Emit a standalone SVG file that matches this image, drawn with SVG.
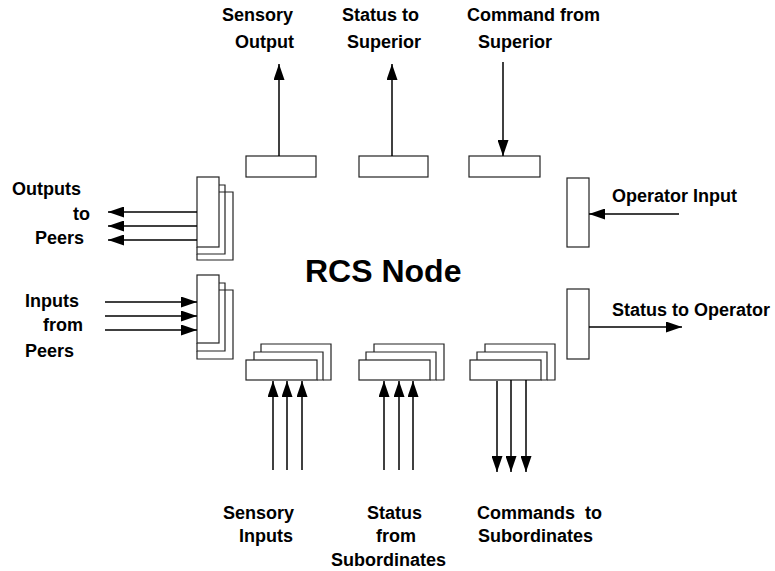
<svg xmlns="http://www.w3.org/2000/svg" width="775" height="571" viewBox="0 0 775 571">
<style>
.box{fill:#fff;stroke:#222;stroke-width:1.2}
.stk{fill:none;stroke:#222;stroke-width:1.2}
.ln{fill:none;stroke:#000;stroke-width:1.5}
.t{font-family:"Liberation Sans",Arial,sans-serif;font-weight:bold;font-size:18px;fill:#000}
.title{font-family:"Liberation Sans",Arial,sans-serif;font-weight:bold;font-size:32px;fill:#000}
</style>
<defs>
<marker id="ah" viewBox="0 0 16 11" refX="16" refY="5.5" markerWidth="16" markerHeight="11" markerUnits="userSpaceOnUse" orient="auto">
<path d="M0,0 L16,5.5 L0,11 Z" fill="#000"/>
</marker>
</defs>
<rect width="775" height="571" fill="#fff"/>

<g id="top-sensory-output"><rect class="box" x="246" y="156" width="70" height="21"/></g>
<g id="top-status-superior"><rect class="box" x="359" y="156" width="69" height="21"/></g>
<g id="top-command-superior"><rect class="box" x="469" y="156" width="71" height="21"/></g>

<g id="left-outputs-peers">
<path class="stk" d="M219,192 H233 V260 H197 V254"/>
<path class="stk" d="M219,185 H225 V254 H197 V247"/>
<rect class="box" x="197" y="177" width="22" height="70"/>
</g>
<g id="left-inputs-peers">
<path class="stk" d="M219,290 H233 V359 H197 V351"/>
<path class="stk" d="M219,283 H225 V351 H197 V343"/>
<rect class="box" x="197" y="275" width="22" height="68"/>
</g>

<g id="right-operator-input"><rect class="box" x="567" y="178" width="22" height="69"/></g>
<g id="right-status-operator"><rect class="box" x="567" y="289" width="22" height="70"/></g>

<g id="bottom-sensory-inputs">
<path class="stk" d="M261,352 V344 H331 V380 H323"/>
<path class="stk" d="M254,360 V352 H323 V380 H317"/>
<rect class="box" x="246" y="360" width="71" height="20"/>
</g>
<g id="bottom-status-subordinates">
<path class="stk" d="M374,352 V344 H444 V380 H436"/>
<path class="stk" d="M366,360 V352 H436 V380 H430"/>
<rect class="box" x="359" y="360" width="71" height="20"/>
</g>
<g id="bottom-commands-subordinates">
<path class="stk" d="M485,352 V344 H555 V380 H547"/>
<path class="stk" d="M477,360 V352 H547 V380 H541"/>
<rect class="box" x="470" y="360" width="71" height="20"/>
</g>

<g id="center"><text class="title" x="305" y="282">RCS Node</text></g>

<g id="connectors">
<line class="ln" x1="279" y1="156" x2="279" y2="64" marker-end="url(#ah)"/>
<line class="ln" x1="392" y1="156" x2="392" y2="64" marker-end="url(#ah)"/>
<line class="ln" x1="503" y1="62" x2="503" y2="156" marker-end="url(#ah)"/>

<line class="ln" x1="197" y1="212" x2="108" y2="212" marker-end="url(#ah)"/>
<line class="ln" x1="197" y1="226" x2="108" y2="226" marker-end="url(#ah)"/>
<line class="ln" x1="197" y1="240" x2="108" y2="240" marker-end="url(#ah)"/>

<line class="ln" x1="105" y1="302" x2="197" y2="302" marker-end="url(#ah)"/>
<line class="ln" x1="105" y1="316" x2="197" y2="316" marker-end="url(#ah)"/>
<line class="ln" x1="105" y1="330" x2="197" y2="330" marker-end="url(#ah)"/>

<line class="ln" x1="679" y1="214" x2="589" y2="214" marker-end="url(#ah)"/>
<line class="ln" x1="589" y1="327" x2="682" y2="327" marker-end="url(#ah)"/>

<line class="ln" x1="273" y1="470" x2="273" y2="381" marker-end="url(#ah)"/>
<line class="ln" x1="287" y1="470" x2="287" y2="381" marker-end="url(#ah)"/>
<line class="ln" x1="302" y1="470" x2="302" y2="381" marker-end="url(#ah)"/>

<line class="ln" x1="384" y1="470" x2="384" y2="381" marker-end="url(#ah)"/>
<line class="ln" x1="399" y1="470" x2="399" y2="381" marker-end="url(#ah)"/>
<line class="ln" x1="413" y1="470" x2="413" y2="381" marker-end="url(#ah)"/>

<line class="ln" x1="497" y1="381" x2="497" y2="472" marker-end="url(#ah)"/>
<line class="ln" x1="511" y1="380" x2="511" y2="472" marker-end="url(#ah)"/>
<line class="ln" x1="526" y1="380" x2="526" y2="472" marker-end="url(#ah)"/>
</g>

<g id="labels">
<text class="t" x="222" y="21">Sensory</text>
<text class="t" x="235" y="48">Output</text>
<text class="t" x="342" y="21">Status to</text>
<text class="t" x="347" y="48">Superior</text>
<text class="t" x="467" y="21">Command from</text>
<text class="t" x="478" y="48">Superior</text>

<text class="t" x="12" y="195">Outputs</text>
<text class="t" x="73" y="220">to</text>
<text class="t" x="35" y="244">Peers</text>
<text class="t" x="25" y="307">Inputs</text>
<text class="t" x="43" y="331">from</text>
<text class="t" x="25" y="357">Peers</text>

<text class="t" x="612" y="202">Operator Input</text>
<text class="t" x="612" y="316">Status to Operator</text>

<text class="t" x="223" y="519">Sensory</text>
<text class="t" x="239" y="542">Inputs</text>
<text class="t" x="367" y="519">Status</text>
<text class="t" x="376" y="542">from</text>
<text class="t" x="331" y="566">Subordinates</text>
<text class="t" x="477" y="519" word-spacing="5">Commands to</text>
<text class="t" x="478" y="542">Subordinates</text>
</g>
</svg>
